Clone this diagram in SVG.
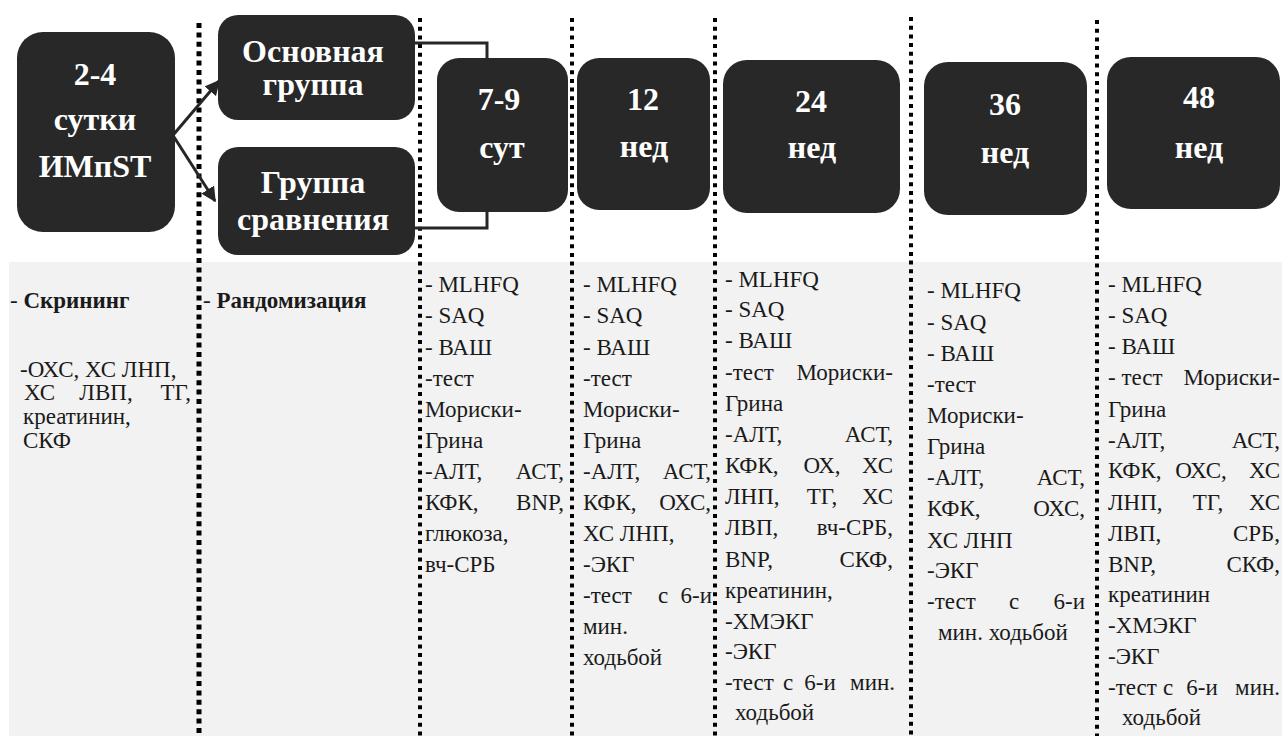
<svg xmlns="http://www.w3.org/2000/svg" width="1282" height="736" viewBox="0 0 1282 736" font-family="Liberation Serif, Tinos, Times New Roman, Times, Noto Serif, DejaVu Serif, FreeSerif, serif">
<style>
.box{fill:#282828}
.tt{font-weight:bold;font-size:32px;fill:#fff;text-anchor:middle}
.t{font-size:23px;fill:#1a1a1a}
.b{font-weight:bold}
.e{text-anchor:end}
.m{text-anchor:middle}
.dl{stroke:#000;stroke-width:4;stroke-dasharray:4 4.7;fill:none}
.dl1{stroke:#000;stroke-width:5;stroke-dasharray:5 4.4;fill:none}
.cn{stroke:#262626;stroke-width:3;fill:none}
</style>
<defs>
<marker id="ah" viewBox="0 0 10 10" refX="9" refY="5" markerWidth="5" markerHeight="5" orient="auto">
<path d="M0,0 L10,5 L0,10 z" fill="#262626"/>
</marker>
</defs>
<rect width="1282" height="736" fill="#fff"/>
<rect x="9" y="262" width="1273" height="474" fill="#f2f2f2"/>
<g id="dividers">
<line class="dl1" x1="199" y1="23" x2="199" y2="736"/>
<line class="dl" x1="420" y1="18" x2="420" y2="736"/>
<line class="dl" x1="572" y1="18" x2="572" y2="736"/>
<line class="dl" x1="715" y1="18" x2="715" y2="736"/>
<line class="dl" x1="911" y1="17" x2="911" y2="736"/>
<line class="dl" x1="1097" y1="20" x2="1097" y2="736"/>
</g>
<g id="connectors">
<line class="cn" x1="174" y1="134" x2="219" y2="81" marker-end="url(#ah)"/>
<line class="cn" x1="174" y1="137" x2="215" y2="201" marker-end="url(#ah)"/>
<path class="cn" d="M415,43 H487 V58"/>
<path class="cn" d="M415,228 H487 V212"/>
</g>
<g id="n-start">
<rect class="box" x="17" y="32" width="158" height="200" rx="26"/>
<text class="tt" x="95" y="85">2-4</text>
<text class="tt" x="95" y="130">сутки</text>
<text class="tt" x="95" y="177">ИМпST</text>
</g>
<g id="n-main">
<rect class="box" x="218" y="15" width="197" height="105" rx="20"/>
<text class="tt" x="313" y="62">Основная</text>
<text class="tt" x="313" y="95">группа</text>
</g>
<g id="n-comp">
<rect class="box" x="218" y="147" width="197" height="108" rx="20"/>
<text class="tt" x="313" y="193">Группа</text>
<text class="tt" x="313" y="230">сравнения</text>
</g>
<g id="n-79">
<rect class="box" x="437" y="58" width="131" height="154" rx="22"/>
<text class="tt" x="499" y="110">7-9</text>
<text class="tt" x="502" y="158">сут</text>
</g>
<g id="n-12">
<rect class="box" x="577" y="58" width="133" height="152" rx="22"/>
<text class="tt" x="643" y="110">12</text>
<text class="tt" x="644" y="157">нед</text>
</g>
<g id="n-24">
<rect class="box" x="723" y="60" width="177" height="153" rx="24"/>
<text class="tt" x="811" y="112">24</text>
<text class="tt" x="812" y="158">нед</text>
</g>
<g id="n-36">
<rect class="box" x="924" y="62" width="163" height="153" rx="24"/>
<text class="tt" x="1005" y="115">36</text>
<text class="tt" x="1005" y="163">нед</text>
</g>
<g id="n-48">
<rect class="box" x="1107" y="57" width="173" height="152" rx="24"/>
<text class="tt" x="1199" y="108">48</text>
<text class="tt" x="1199" y="158">нед</text>
</g>
<g id="col-screen">
<text class="t" x="10" y="308">- <tspan class="b">Скрининг</tspan></text>
<text class="t" x="20" y="377">-ОХС, ХС ЛНП,</text>
<text class="t" x="24" y="400">ХС</text>
<text class="t m" x="106" y="400">ЛВП,</text>
<text class="t e" x="191" y="400">ТГ,</text>
<text class="t" x="23" y="424">креатинин,</text>
<text class="t" x="23" y="448">СКФ</text>
</g>
<g id="col-rand">
<text class="t" x="203" y="308">- <tspan class="b">Рандомизация</tspan></text>
</g>
<g id="col-79">
<text class="t" x="425" y="292">- MLHFQ</text>
<text class="t" x="425" y="323">- SAQ</text>
<text class="t" x="425" y="355">- ВАШ</text>
<text class="t" x="425" y="386">-тест</text>
<text class="t" x="425" y="417">Мориски-</text>
<text class="t" x="425" y="448">Грина</text>
<text class="t" x="425" y="479">-АЛТ,</text>
<text class="t e" x="564" y="479">АСТ,</text>
<text class="t" x="425" y="510">КФК,</text>
<text class="t e" x="564" y="510">BNP,</text>
<text class="t" x="425" y="541">глюкоза,</text>
<text class="t" x="425" y="572">вч-СРБ</text>
</g>
<g id="col-12">
<text class="t" x="583" y="292">- MLHFQ</text>
<text class="t" x="583" y="323">- SAQ</text>
<text class="t" x="583" y="355">- ВАШ</text>
<text class="t" x="583" y="386">-тест</text>
<text class="t" x="583" y="417">Мориски-</text>
<text class="t" x="583" y="448">Грина</text>
<text class="t" x="583" y="479">-АЛТ,</text>
<text class="t e" x="711" y="479">АСТ,</text>
<text class="t" x="583" y="510">КФК,</text>
<text class="t e" x="711" y="510">ОХС,</text>
<text class="t" x="583" y="541">ХС ЛНП,</text>
<text class="t" x="583" y="572">-ЭКГ</text>
<text class="t" x="583" y="603">-тест</text>
<text class="t m" x="663" y="603">с</text>
<text class="t e" x="712" y="603">6-и</text>
<text class="t" x="583" y="634">мин.</text>
<text class="t" x="583" y="665">ходьбой</text>
</g>
<g id="col-24">
<text class="t" x="725" y="287">- MLHFQ</text>
<text class="t" x="725" y="317">- SAQ</text>
<text class="t" x="725" y="348">- ВАШ</text>
<text class="t" x="725" y="380">-тест</text>
<text class="t e" x="893" y="380">Мориски-</text>
<text class="t" x="725" y="411">Грина</text>
<text class="t" x="725" y="442">-АЛТ,</text>
<text class="t e" x="893" y="442">АСТ,</text>
<text class="t" x="725" y="473">КФК,</text>
<text class="t m" x="822" y="473">ОХ,</text>
<text class="t e" x="893" y="473">ХС</text>
<text class="t" x="725" y="504">ЛНП,</text>
<text class="t m" x="822" y="504">ТГ,</text>
<text class="t e" x="893" y="504">ХС</text>
<text class="t" x="725" y="535">ЛВП,</text>
<text class="t e" x="893" y="535">вч-СРБ,</text>
<text class="t" x="725" y="567">BNP,</text>
<text class="t e" x="893" y="567">СКФ,</text>
<text class="t" x="725" y="598">креатинин,</text>
<text class="t" x="725" y="629">-ХМЭКГ</text>
<text class="t" x="725" y="659">-ЭКГ</text>
<text class="t" x="725" y="690">-тест</text>
<text class="t m" x="788" y="690">с</text>
<text class="t m" x="820" y="690">6-и</text>
<text class="t e" x="895" y="690">мин.</text>
<text class="t" x="735" y="720">ходьбой</text>
</g>
<g id="col-36">
<text class="t" x="927" y="298">- MLHFQ</text>
<text class="t" x="927" y="330">- SAQ</text>
<text class="t" x="927" y="361">- ВАШ</text>
<text class="t" x="927" y="392">-тест</text>
<text class="t" x="927" y="423">Мориски-</text>
<text class="t" x="927" y="454">Грина</text>
<text class="t" x="927" y="485">-АЛТ,</text>
<text class="t e" x="1085" y="485">АСТ,</text>
<text class="t" x="927" y="516">КФК,</text>
<text class="t e" x="1085" y="516">ОХС,</text>
<text class="t" x="927" y="548">ХС ЛНП</text>
<text class="t" x="927" y="578">-ЭКГ</text>
<text class="t" x="927" y="609">-тест</text>
<text class="t m" x="1014" y="609">с</text>
<text class="t e" x="1085" y="609">6-и</text>
<text class="t" x="938" y="640">мин. ходьбой</text>
</g>
<g id="col-48">
<text class="t" x="1108" y="292">- MLHFQ</text>
<text class="t" x="1108" y="323">- SAQ</text>
<text class="t" x="1108" y="354">- ВАШ</text>
<text class="t" x="1108" y="385">- тест</text>
<text class="t e" x="1280" y="385">Мориски-</text>
<text class="t" x="1108" y="417">Грина</text>
<text class="t" x="1108" y="448">-АЛТ,</text>
<text class="t e" x="1280" y="448">АСТ,</text>
<text class="t" x="1108" y="478">КФК,</text>
<text class="t m" x="1201" y="478">ОХС,</text>
<text class="t e" x="1280" y="478">ХС</text>
<text class="t" x="1108" y="510">ЛНП,</text>
<text class="t m" x="1208" y="510">ТГ,</text>
<text class="t e" x="1280" y="510">ХС</text>
<text class="t" x="1108" y="541">ЛВП,</text>
<text class="t e" x="1280" y="541">СРБ,</text>
<text class="t" x="1108" y="572">BNP,</text>
<text class="t e" x="1280" y="572">СКФ,</text>
<text class="t" x="1108" y="602">креатинин</text>
<text class="t" x="1108" y="633">-ХМЭКГ</text>
<text class="t" x="1108" y="664">-ЭКГ</text>
<text class="t" x="1108" y="695">-тест</text>
<text class="t m" x="1168" y="695">с</text>
<text class="t m" x="1202" y="695">6-и</text>
<text class="t e" x="1280" y="695">мин.</text>
<text class="t" x="1122" y="725">ходьбой</text>
</g>
</svg>
